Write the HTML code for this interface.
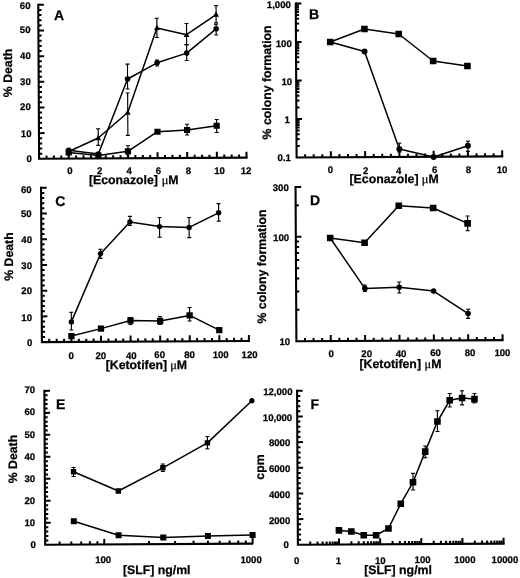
<!DOCTYPE html>
<html><head><meta charset="utf-8"><style>
html,body{margin:0;padding:0;background:#fff;}
svg{display:block;filter:grayscale(1);}
text{font-family:"Liberation Sans",sans-serif;fill:#000;text-rendering:geometricPrecision;stroke:#000;stroke-width:0.25px;}
</style></head><body>
<svg width="520" height="578" viewBox="0 0 520 578">
<g>
<rect width="520" height="578" fill="#fff"/>
<g transform="rotate(-0.3151 39.1 158.8)">
<path d="M39.1,4.85 L39.1,158.8 L246.5,158.8" stroke="#000" stroke-width="2.1" fill="none" stroke-linecap="square"/>
<line x1="39.1" y1="153.67" x2="42.3" y2="153.67" stroke="#000" stroke-width="2"/>
<line x1="39.1" y1="148.54" x2="42.3" y2="148.54" stroke="#000" stroke-width="2"/>
<line x1="39.1" y1="143.41" x2="42.3" y2="143.41" stroke="#000" stroke-width="2"/>
<line x1="39.1" y1="138.27" x2="42.3" y2="138.27" stroke="#000" stroke-width="2"/>
<line x1="39.1" y1="133.14" x2="44.7" y2="133.14" stroke="#000" stroke-width="2"/>
<line x1="39.1" y1="128.01" x2="42.3" y2="128.01" stroke="#000" stroke-width="2"/>
<line x1="39.1" y1="122.88" x2="42.3" y2="122.88" stroke="#000" stroke-width="2"/>
<line x1="39.1" y1="117.75" x2="42.3" y2="117.75" stroke="#000" stroke-width="2"/>
<line x1="39.1" y1="112.62" x2="42.3" y2="112.62" stroke="#000" stroke-width="2"/>
<line x1="39.1" y1="107.48" x2="44.7" y2="107.48" stroke="#000" stroke-width="2"/>
<line x1="39.1" y1="102.35" x2="42.3" y2="102.35" stroke="#000" stroke-width="2"/>
<line x1="39.1" y1="97.22" x2="42.3" y2="97.22" stroke="#000" stroke-width="2"/>
<line x1="39.1" y1="92.09" x2="42.3" y2="92.09" stroke="#000" stroke-width="2"/>
<line x1="39.1" y1="86.96" x2="42.3" y2="86.96" stroke="#000" stroke-width="2"/>
<line x1="39.1" y1="81.83" x2="44.7" y2="81.83" stroke="#000" stroke-width="2"/>
<line x1="39.1" y1="76.69" x2="42.3" y2="76.69" stroke="#000" stroke-width="2"/>
<line x1="39.1" y1="71.56" x2="42.3" y2="71.56" stroke="#000" stroke-width="2"/>
<line x1="39.1" y1="66.43" x2="42.3" y2="66.43" stroke="#000" stroke-width="2"/>
<line x1="39.1" y1="61.3" x2="42.3" y2="61.3" stroke="#000" stroke-width="2"/>
<line x1="39.1" y1="56.17" x2="44.7" y2="56.17" stroke="#000" stroke-width="2"/>
<line x1="39.1" y1="51.04" x2="42.3" y2="51.04" stroke="#000" stroke-width="2"/>
<line x1="39.1" y1="45.9" x2="42.3" y2="45.9" stroke="#000" stroke-width="2"/>
<line x1="39.1" y1="40.77" x2="42.3" y2="40.77" stroke="#000" stroke-width="2"/>
<line x1="39.1" y1="35.64" x2="42.3" y2="35.64" stroke="#000" stroke-width="2"/>
<line x1="39.1" y1="30.51" x2="44.7" y2="30.51" stroke="#000" stroke-width="2"/>
<line x1="39.1" y1="25.38" x2="42.3" y2="25.38" stroke="#000" stroke-width="2"/>
<line x1="39.1" y1="20.25" x2="42.3" y2="20.25" stroke="#000" stroke-width="2"/>
<line x1="39.1" y1="15.11" x2="42.3" y2="15.11" stroke="#000" stroke-width="2"/>
<line x1="39.1" y1="9.98" x2="42.3" y2="9.98" stroke="#000" stroke-width="2"/>
<line x1="39.1" y1="4.85" x2="44.7" y2="4.85" stroke="#000" stroke-width="2"/>
<line x1="46.51" y1="158.8" x2="46.51" y2="155.6" stroke="#000" stroke-width="2"/>
<line x1="53.91" y1="158.8" x2="53.91" y2="155.6" stroke="#000" stroke-width="2"/>
<line x1="61.32" y1="158.8" x2="61.32" y2="155.6" stroke="#000" stroke-width="2"/>
<line x1="68.73" y1="158.8" x2="68.73" y2="152.8" stroke="#000" stroke-width="2"/>
<line x1="76.14" y1="158.8" x2="76.14" y2="155.6" stroke="#000" stroke-width="2"/>
<line x1="83.54" y1="158.8" x2="83.54" y2="155.6" stroke="#000" stroke-width="2"/>
<line x1="90.95" y1="158.8" x2="90.95" y2="155.6" stroke="#000" stroke-width="2"/>
<line x1="98.36" y1="158.8" x2="98.36" y2="152.8" stroke="#000" stroke-width="2"/>
<line x1="105.76" y1="158.8" x2="105.76" y2="155.6" stroke="#000" stroke-width="2"/>
<line x1="113.17" y1="158.8" x2="113.17" y2="155.6" stroke="#000" stroke-width="2"/>
<line x1="120.58" y1="158.8" x2="120.58" y2="155.6" stroke="#000" stroke-width="2"/>
<line x1="127.99" y1="158.8" x2="127.99" y2="152.8" stroke="#000" stroke-width="2"/>
<line x1="135.39" y1="158.8" x2="135.39" y2="155.6" stroke="#000" stroke-width="2"/>
<line x1="142.8" y1="158.8" x2="142.8" y2="155.6" stroke="#000" stroke-width="2"/>
<line x1="150.21" y1="158.8" x2="150.21" y2="155.6" stroke="#000" stroke-width="2"/>
<line x1="157.61" y1="158.8" x2="157.61" y2="152.8" stroke="#000" stroke-width="2"/>
<line x1="165.02" y1="158.8" x2="165.02" y2="155.6" stroke="#000" stroke-width="2"/>
<line x1="172.43" y1="158.8" x2="172.43" y2="155.6" stroke="#000" stroke-width="2"/>
<line x1="179.84" y1="158.8" x2="179.84" y2="155.6" stroke="#000" stroke-width="2"/>
<line x1="187.24" y1="158.8" x2="187.24" y2="152.8" stroke="#000" stroke-width="2"/>
<line x1="194.65" y1="158.8" x2="194.65" y2="155.6" stroke="#000" stroke-width="2"/>
<line x1="202.06" y1="158.8" x2="202.06" y2="155.6" stroke="#000" stroke-width="2"/>
<line x1="209.46" y1="158.8" x2="209.46" y2="155.6" stroke="#000" stroke-width="2"/>
<line x1="216.87" y1="158.8" x2="216.87" y2="152.8" stroke="#000" stroke-width="2"/>
<line x1="224.28" y1="158.8" x2="224.28" y2="155.6" stroke="#000" stroke-width="2"/>
<line x1="231.69" y1="158.8" x2="231.69" y2="155.6" stroke="#000" stroke-width="2"/>
<line x1="239.09" y1="158.8" x2="239.09" y2="155.6" stroke="#000" stroke-width="2"/>
<line x1="246.5" y1="158.8" x2="246.5" y2="152.8" stroke="#000" stroke-width="2"/>
<line x1="98.36" y1="129.13" x2="98.36" y2="145.73" stroke="#000" stroke-width="1.15"/>
<line x1="96.36" y1="129.13" x2="100.36" y2="129.13" stroke="#000" stroke-width="1.15"/>
<line x1="96.36" y1="145.73" x2="100.36" y2="145.73" stroke="#000" stroke-width="1.15"/>
<line x1="127.99" y1="93.49" x2="127.99" y2="135.89" stroke="#000" stroke-width="1.15"/>
<line x1="125.99" y1="93.49" x2="129.99" y2="93.49" stroke="#000" stroke-width="1.15"/>
<line x1="125.99" y1="135.89" x2="129.99" y2="135.89" stroke="#000" stroke-width="1.15"/>
<line x1="157.61" y1="18.95" x2="157.61" y2="38.15" stroke="#000" stroke-width="1.15"/>
<line x1="155.61" y1="18.95" x2="159.61" y2="18.95" stroke="#000" stroke-width="1.15"/>
<line x1="155.61" y1="38.15" x2="159.61" y2="38.15" stroke="#000" stroke-width="1.15"/>
<line x1="187.24" y1="24.31" x2="187.24" y2="45.41" stroke="#000" stroke-width="1.15"/>
<line x1="185.24" y1="24.31" x2="189.24" y2="24.31" stroke="#000" stroke-width="1.15"/>
<line x1="185.24" y1="45.41" x2="189.24" y2="45.41" stroke="#000" stroke-width="1.15"/>
<line x1="216.87" y1="6.58" x2="216.87" y2="23.88" stroke="#000" stroke-width="1.15"/>
<line x1="214.87" y1="6.58" x2="218.87" y2="6.58" stroke="#000" stroke-width="1.15"/>
<line x1="214.87" y1="23.88" x2="218.87" y2="23.88" stroke="#000" stroke-width="1.15"/>
<line x1="127.99" y1="64.59" x2="127.99" y2="89.49" stroke="#000" stroke-width="1.15"/>
<line x1="125.99" y1="64.59" x2="129.99" y2="64.59" stroke="#000" stroke-width="1.15"/>
<line x1="125.99" y1="89.49" x2="129.99" y2="89.49" stroke="#000" stroke-width="1.15"/>
<line x1="157.61" y1="60.65" x2="157.61" y2="66.65" stroke="#000" stroke-width="1.15"/>
<line x1="155.61" y1="60.65" x2="159.61" y2="60.65" stroke="#000" stroke-width="1.15"/>
<line x1="155.61" y1="66.65" x2="159.61" y2="66.65" stroke="#000" stroke-width="1.15"/>
<line x1="187.24" y1="45.41" x2="187.24" y2="61.31" stroke="#000" stroke-width="1.15"/>
<line x1="185.24" y1="45.41" x2="189.24" y2="45.41" stroke="#000" stroke-width="1.15"/>
<line x1="185.24" y1="61.31" x2="189.24" y2="61.31" stroke="#000" stroke-width="1.15"/>
<line x1="216.87" y1="25.28" x2="216.87" y2="35.98" stroke="#000" stroke-width="1.15"/>
<line x1="214.87" y1="25.28" x2="218.87" y2="25.28" stroke="#000" stroke-width="1.15"/>
<line x1="214.87" y1="35.98" x2="218.87" y2="35.98" stroke="#000" stroke-width="1.15"/>
<line x1="127.99" y1="146.24" x2="127.99" y2="155.49" stroke="#000" stroke-width="1.15"/>
<line x1="125.99" y1="146.24" x2="129.99" y2="146.24" stroke="#000" stroke-width="1.15"/>
<line x1="125.99" y1="155.49" x2="129.99" y2="155.49" stroke="#000" stroke-width="1.15"/>
<line x1="187.24" y1="125.06" x2="187.24" y2="135.81" stroke="#000" stroke-width="1.15"/>
<line x1="185.24" y1="125.06" x2="189.24" y2="125.06" stroke="#000" stroke-width="1.15"/>
<line x1="185.24" y1="135.81" x2="189.24" y2="135.81" stroke="#000" stroke-width="1.15"/>
<line x1="216.87" y1="120.48" x2="216.87" y2="133.48" stroke="#000" stroke-width="1.15"/>
<line x1="214.87" y1="120.48" x2="218.87" y2="120.48" stroke="#000" stroke-width="1.15"/>
<line x1="214.87" y1="133.48" x2="218.87" y2="133.48" stroke="#000" stroke-width="1.15"/>
<path d="M68.73,151.66 L98.36,138.33 L127.99,112.99 L157.61,28.55 L187.24,35.51 L216.87,15.58" stroke="#000" stroke-width="1.5" fill="none" stroke-linejoin="round"/>
<path d="M68.73,150.46 L98.36,154.33 L127.99,79.49 L157.61,63.45 L187.24,53.91 L216.87,29.78" stroke="#000" stroke-width="1.5" fill="none" stroke-linejoin="round"/>
<path d="M68.73,152.66 L98.36,155.83 L127.99,151.74 L157.61,132.4 L187.24,130.81 L216.87,126.73" stroke="#000" stroke-width="1.5" fill="none" stroke-linejoin="round"/>
<path d="M68.73,148.36 L71.63,153.87 L65.83,153.87 Z" fill="#000"/>
<path d="M98.36,135.02 L101.26,140.53 L95.46,140.53 Z" fill="#000"/>
<path d="M127.99,109.68 L130.89,115.19 L125.09,115.19 Z" fill="#000"/>
<path d="M157.61,25.25 L160.51,30.76 L154.71,30.76 Z" fill="#000"/>
<path d="M187.24,32.21 L190.14,37.72 L184.34,37.72 Z" fill="#000"/>
<path d="M216.87,12.27 L219.77,17.78 L213.97,17.78 Z" fill="#000"/>
<circle cx="68.73" cy="150.46" r="2.8" fill="#000"/>
<circle cx="98.36" cy="154.33" r="2.8" fill="#000"/>
<circle cx="127.99" cy="79.49" r="2.8" fill="#000"/>
<circle cx="157.61" cy="63.45" r="2.8" fill="#000"/>
<circle cx="187.24" cy="53.91" r="2.8" fill="#000"/>
<circle cx="216.87" cy="29.78" r="2.8" fill="#000"/>
<rect x="65.63" y="149.56" width="6.2" height="6.2" fill="#000"/>
<rect x="95.26" y="152.73" width="6.2" height="6.2" fill="#000"/>
<rect x="124.89" y="148.64" width="6.2" height="6.2" fill="#000"/>
<rect x="154.51" y="129.3" width="6.2" height="6.2" fill="#000"/>
<rect x="184.14" y="127.71" width="6.2" height="6.2" fill="#000"/>
<rect x="213.77" y="123.63" width="6.2" height="6.2" fill="#000"/>
</g>
<g transform="rotate(-0.3151 296.6 157.5)">
<path d="M296.6,3.5 L296.6,157.5 L502.2,157.5" stroke="#000" stroke-width="2.1" fill="none" stroke-linecap="square"/>
<line x1="296.6" y1="145.91" x2="299.8" y2="145.91" stroke="#000" stroke-width="2"/>
<line x1="296.6" y1="139.13" x2="299.8" y2="139.13" stroke="#000" stroke-width="2"/>
<line x1="296.6" y1="134.32" x2="299.8" y2="134.32" stroke="#000" stroke-width="2"/>
<line x1="296.6" y1="130.59" x2="299.8" y2="130.59" stroke="#000" stroke-width="2"/>
<line x1="296.6" y1="127.54" x2="299.8" y2="127.54" stroke="#000" stroke-width="2"/>
<line x1="296.6" y1="124.96" x2="299.8" y2="124.96" stroke="#000" stroke-width="2"/>
<line x1="296.6" y1="122.73" x2="299.8" y2="122.73" stroke="#000" stroke-width="2"/>
<line x1="296.6" y1="120.76" x2="299.8" y2="120.76" stroke="#000" stroke-width="2"/>
<line x1="296.6" y1="119" x2="302.2" y2="119" stroke="#000" stroke-width="2"/>
<line x1="296.6" y1="107.41" x2="299.8" y2="107.41" stroke="#000" stroke-width="2"/>
<line x1="296.6" y1="100.63" x2="299.8" y2="100.63" stroke="#000" stroke-width="2"/>
<line x1="296.6" y1="95.82" x2="299.8" y2="95.82" stroke="#000" stroke-width="2"/>
<line x1="296.6" y1="92.09" x2="299.8" y2="92.09" stroke="#000" stroke-width="2"/>
<line x1="296.6" y1="89.04" x2="299.8" y2="89.04" stroke="#000" stroke-width="2"/>
<line x1="296.6" y1="86.46" x2="299.8" y2="86.46" stroke="#000" stroke-width="2"/>
<line x1="296.6" y1="84.23" x2="299.8" y2="84.23" stroke="#000" stroke-width="2"/>
<line x1="296.6" y1="82.26" x2="299.8" y2="82.26" stroke="#000" stroke-width="2"/>
<line x1="296.6" y1="80.5" x2="302.2" y2="80.5" stroke="#000" stroke-width="2"/>
<line x1="296.6" y1="68.91" x2="299.8" y2="68.91" stroke="#000" stroke-width="2"/>
<line x1="296.6" y1="62.13" x2="299.8" y2="62.13" stroke="#000" stroke-width="2"/>
<line x1="296.6" y1="57.32" x2="299.8" y2="57.32" stroke="#000" stroke-width="2"/>
<line x1="296.6" y1="53.59" x2="299.8" y2="53.59" stroke="#000" stroke-width="2"/>
<line x1="296.6" y1="50.54" x2="299.8" y2="50.54" stroke="#000" stroke-width="2"/>
<line x1="296.6" y1="47.96" x2="299.8" y2="47.96" stroke="#000" stroke-width="2"/>
<line x1="296.6" y1="45.73" x2="299.8" y2="45.73" stroke="#000" stroke-width="2"/>
<line x1="296.6" y1="43.76" x2="299.8" y2="43.76" stroke="#000" stroke-width="2"/>
<line x1="296.6" y1="42" x2="302.2" y2="42" stroke="#000" stroke-width="2"/>
<line x1="296.6" y1="30.41" x2="299.8" y2="30.41" stroke="#000" stroke-width="2"/>
<line x1="296.6" y1="23.63" x2="299.8" y2="23.63" stroke="#000" stroke-width="2"/>
<line x1="296.6" y1="18.82" x2="299.8" y2="18.82" stroke="#000" stroke-width="2"/>
<line x1="296.6" y1="15.09" x2="299.8" y2="15.09" stroke="#000" stroke-width="2"/>
<line x1="296.6" y1="12.04" x2="299.8" y2="12.04" stroke="#000" stroke-width="2"/>
<line x1="296.6" y1="9.46" x2="299.8" y2="9.46" stroke="#000" stroke-width="2"/>
<line x1="296.6" y1="7.23" x2="299.8" y2="7.23" stroke="#000" stroke-width="2"/>
<line x1="296.6" y1="5.26" x2="299.8" y2="5.26" stroke="#000" stroke-width="2"/>
<line x1="296.6" y1="3.5" x2="302.2" y2="3.5" stroke="#000" stroke-width="2"/>
<line x1="305.17" y1="157.5" x2="305.17" y2="154.3" stroke="#000" stroke-width="2"/>
<line x1="313.73" y1="157.5" x2="313.73" y2="154.3" stroke="#000" stroke-width="2"/>
<line x1="322.3" y1="157.5" x2="322.3" y2="154.3" stroke="#000" stroke-width="2"/>
<line x1="330.87" y1="157.5" x2="330.87" y2="151.5" stroke="#000" stroke-width="2"/>
<line x1="339.43" y1="157.5" x2="339.43" y2="154.3" stroke="#000" stroke-width="2"/>
<line x1="348" y1="157.5" x2="348" y2="154.3" stroke="#000" stroke-width="2"/>
<line x1="356.57" y1="157.5" x2="356.57" y2="154.3" stroke="#000" stroke-width="2"/>
<line x1="365.13" y1="157.5" x2="365.13" y2="151.5" stroke="#000" stroke-width="2"/>
<line x1="373.7" y1="157.5" x2="373.7" y2="154.3" stroke="#000" stroke-width="2"/>
<line x1="382.27" y1="157.5" x2="382.27" y2="154.3" stroke="#000" stroke-width="2"/>
<line x1="390.83" y1="157.5" x2="390.83" y2="154.3" stroke="#000" stroke-width="2"/>
<line x1="399.4" y1="157.5" x2="399.4" y2="151.5" stroke="#000" stroke-width="2"/>
<line x1="407.97" y1="157.5" x2="407.97" y2="154.3" stroke="#000" stroke-width="2"/>
<line x1="416.53" y1="157.5" x2="416.53" y2="154.3" stroke="#000" stroke-width="2"/>
<line x1="425.1" y1="157.5" x2="425.1" y2="154.3" stroke="#000" stroke-width="2"/>
<line x1="433.67" y1="157.5" x2="433.67" y2="151.5" stroke="#000" stroke-width="2"/>
<line x1="442.23" y1="157.5" x2="442.23" y2="154.3" stroke="#000" stroke-width="2"/>
<line x1="450.8" y1="157.5" x2="450.8" y2="154.3" stroke="#000" stroke-width="2"/>
<line x1="459.37" y1="157.5" x2="459.37" y2="154.3" stroke="#000" stroke-width="2"/>
<line x1="467.93" y1="157.5" x2="467.93" y2="151.5" stroke="#000" stroke-width="2"/>
<line x1="476.5" y1="157.5" x2="476.5" y2="154.3" stroke="#000" stroke-width="2"/>
<line x1="485.07" y1="157.5" x2="485.07" y2="154.3" stroke="#000" stroke-width="2"/>
<line x1="493.63" y1="157.5" x2="493.63" y2="154.3" stroke="#000" stroke-width="2"/>
<line x1="502.2" y1="157.5" x2="502.2" y2="151.5" stroke="#000" stroke-width="2"/>
<line x1="399.4" y1="143.77" x2="399.4" y2="152.57" stroke="#000" stroke-width="1.15"/>
<line x1="397.4" y1="143.77" x2="401.4" y2="143.77" stroke="#000" stroke-width="1.15"/>
<line x1="397.4" y1="152.57" x2="401.4" y2="152.57" stroke="#000" stroke-width="1.15"/>
<line x1="467.93" y1="142.14" x2="467.93" y2="152.34" stroke="#000" stroke-width="1.15"/>
<line x1="465.93" y1="142.14" x2="469.93" y2="142.14" stroke="#000" stroke-width="1.15"/>
<line x1="465.93" y1="152.34" x2="469.93" y2="152.34" stroke="#000" stroke-width="1.15"/>
<path d="M330.87,42.19 L365.13,29.38 L399.4,34.57 L433.67,61.75 L467.93,66.94" stroke="#000" stroke-width="1.5" fill="none" stroke-linejoin="round"/>
<path d="M330.87,42.19 L365.13,51.78 L399.4,149.57 L433.67,157.75 L467.93,146.64" stroke="#000" stroke-width="1.5" fill="none" stroke-linejoin="round"/>
<rect x="327.57" y="38.89" width="6.6" height="6.6" fill="#000"/>
<rect x="361.83" y="26.08" width="6.6" height="6.6" fill="#000"/>
<rect x="396.1" y="31.27" width="6.6" height="6.6" fill="#000"/>
<rect x="430.37" y="58.45" width="6.6" height="6.6" fill="#000"/>
<rect x="464.63" y="63.64" width="6.6" height="6.6" fill="#000"/>
<circle cx="330.87" cy="42.19" r="3" fill="#000"/>
<circle cx="365.13" cy="51.78" r="3" fill="#000"/>
<circle cx="399.4" cy="149.57" r="3" fill="#000"/>
<circle cx="433.67" cy="157.75" r="3" fill="#000"/>
<circle cx="467.93" cy="146.64" r="3" fill="#000"/>
</g>
<g transform="rotate(-0.3151 41.9 342.1)">
<path d="M41.9,187.8 L41.9,342.1 L248.9,342.1" stroke="#000" stroke-width="2.1" fill="none" stroke-linecap="square"/>
<line x1="41.9" y1="336.96" x2="45.1" y2="336.96" stroke="#000" stroke-width="2"/>
<line x1="41.9" y1="331.81" x2="45.1" y2="331.81" stroke="#000" stroke-width="2"/>
<line x1="41.9" y1="326.67" x2="45.1" y2="326.67" stroke="#000" stroke-width="2"/>
<line x1="41.9" y1="321.53" x2="45.1" y2="321.53" stroke="#000" stroke-width="2"/>
<line x1="41.9" y1="316.38" x2="47.5" y2="316.38" stroke="#000" stroke-width="2"/>
<line x1="41.9" y1="311.24" x2="45.1" y2="311.24" stroke="#000" stroke-width="2"/>
<line x1="41.9" y1="306.1" x2="45.1" y2="306.1" stroke="#000" stroke-width="2"/>
<line x1="41.9" y1="300.95" x2="45.1" y2="300.95" stroke="#000" stroke-width="2"/>
<line x1="41.9" y1="295.81" x2="45.1" y2="295.81" stroke="#000" stroke-width="2"/>
<line x1="41.9" y1="290.67" x2="47.5" y2="290.67" stroke="#000" stroke-width="2"/>
<line x1="41.9" y1="285.52" x2="45.1" y2="285.52" stroke="#000" stroke-width="2"/>
<line x1="41.9" y1="280.38" x2="45.1" y2="280.38" stroke="#000" stroke-width="2"/>
<line x1="41.9" y1="275.24" x2="45.1" y2="275.24" stroke="#000" stroke-width="2"/>
<line x1="41.9" y1="270.09" x2="45.1" y2="270.09" stroke="#000" stroke-width="2"/>
<line x1="41.9" y1="264.95" x2="47.5" y2="264.95" stroke="#000" stroke-width="2"/>
<line x1="41.9" y1="259.81" x2="45.1" y2="259.81" stroke="#000" stroke-width="2"/>
<line x1="41.9" y1="254.66" x2="45.1" y2="254.66" stroke="#000" stroke-width="2"/>
<line x1="41.9" y1="249.52" x2="45.1" y2="249.52" stroke="#000" stroke-width="2"/>
<line x1="41.9" y1="244.38" x2="45.1" y2="244.38" stroke="#000" stroke-width="2"/>
<line x1="41.9" y1="239.23" x2="47.5" y2="239.23" stroke="#000" stroke-width="2"/>
<line x1="41.9" y1="234.09" x2="45.1" y2="234.09" stroke="#000" stroke-width="2"/>
<line x1="41.9" y1="228.95" x2="45.1" y2="228.95" stroke="#000" stroke-width="2"/>
<line x1="41.9" y1="223.8" x2="45.1" y2="223.8" stroke="#000" stroke-width="2"/>
<line x1="41.9" y1="218.66" x2="45.1" y2="218.66" stroke="#000" stroke-width="2"/>
<line x1="41.9" y1="213.52" x2="47.5" y2="213.52" stroke="#000" stroke-width="2"/>
<line x1="41.9" y1="208.37" x2="45.1" y2="208.37" stroke="#000" stroke-width="2"/>
<line x1="41.9" y1="203.23" x2="45.1" y2="203.23" stroke="#000" stroke-width="2"/>
<line x1="41.9" y1="198.09" x2="45.1" y2="198.09" stroke="#000" stroke-width="2"/>
<line x1="41.9" y1="192.94" x2="45.1" y2="192.94" stroke="#000" stroke-width="2"/>
<line x1="41.9" y1="187.8" x2="47.5" y2="187.8" stroke="#000" stroke-width="2"/>
<line x1="49.29" y1="342.1" x2="49.29" y2="338.9" stroke="#000" stroke-width="2"/>
<line x1="56.69" y1="342.1" x2="56.69" y2="338.9" stroke="#000" stroke-width="2"/>
<line x1="64.08" y1="342.1" x2="64.08" y2="338.9" stroke="#000" stroke-width="2"/>
<line x1="71.47" y1="342.1" x2="71.47" y2="336.1" stroke="#000" stroke-width="2"/>
<line x1="78.86" y1="342.1" x2="78.86" y2="338.9" stroke="#000" stroke-width="2"/>
<line x1="86.26" y1="342.1" x2="86.26" y2="338.9" stroke="#000" stroke-width="2"/>
<line x1="93.65" y1="342.1" x2="93.65" y2="338.9" stroke="#000" stroke-width="2"/>
<line x1="101.04" y1="342.1" x2="101.04" y2="336.1" stroke="#000" stroke-width="2"/>
<line x1="108.44" y1="342.1" x2="108.44" y2="338.9" stroke="#000" stroke-width="2"/>
<line x1="115.83" y1="342.1" x2="115.83" y2="338.9" stroke="#000" stroke-width="2"/>
<line x1="123.22" y1="342.1" x2="123.22" y2="338.9" stroke="#000" stroke-width="2"/>
<line x1="130.61" y1="342.1" x2="130.61" y2="336.1" stroke="#000" stroke-width="2"/>
<line x1="138.01" y1="342.1" x2="138.01" y2="338.9" stroke="#000" stroke-width="2"/>
<line x1="145.4" y1="342.1" x2="145.4" y2="338.9" stroke="#000" stroke-width="2"/>
<line x1="152.79" y1="342.1" x2="152.79" y2="338.9" stroke="#000" stroke-width="2"/>
<line x1="160.19" y1="342.1" x2="160.19" y2="336.1" stroke="#000" stroke-width="2"/>
<line x1="167.58" y1="342.1" x2="167.58" y2="338.9" stroke="#000" stroke-width="2"/>
<line x1="174.97" y1="342.1" x2="174.97" y2="338.9" stroke="#000" stroke-width="2"/>
<line x1="182.36" y1="342.1" x2="182.36" y2="338.9" stroke="#000" stroke-width="2"/>
<line x1="189.76" y1="342.1" x2="189.76" y2="336.1" stroke="#000" stroke-width="2"/>
<line x1="197.15" y1="342.1" x2="197.15" y2="338.9" stroke="#000" stroke-width="2"/>
<line x1="204.54" y1="342.1" x2="204.54" y2="338.9" stroke="#000" stroke-width="2"/>
<line x1="211.94" y1="342.1" x2="211.94" y2="338.9" stroke="#000" stroke-width="2"/>
<line x1="219.33" y1="342.1" x2="219.33" y2="336.1" stroke="#000" stroke-width="2"/>
<line x1="226.72" y1="342.1" x2="226.72" y2="338.9" stroke="#000" stroke-width="2"/>
<line x1="234.11" y1="342.1" x2="234.11" y2="338.9" stroke="#000" stroke-width="2"/>
<line x1="241.51" y1="342.1" x2="241.51" y2="338.9" stroke="#000" stroke-width="2"/>
<line x1="248.9" y1="342.1" x2="248.9" y2="336.1" stroke="#000" stroke-width="2"/>
<line x1="71.47" y1="312.46" x2="71.47" y2="330.16" stroke="#000" stroke-width="1.15"/>
<line x1="69.47" y1="312.46" x2="73.47" y2="312.46" stroke="#000" stroke-width="1.15"/>
<line x1="69.47" y1="330.16" x2="73.47" y2="330.16" stroke="#000" stroke-width="1.15"/>
<line x1="101.04" y1="249.63" x2="101.04" y2="258.73" stroke="#000" stroke-width="1.15"/>
<line x1="99.04" y1="249.63" x2="103.04" y2="249.63" stroke="#000" stroke-width="1.15"/>
<line x1="99.04" y1="258.73" x2="103.04" y2="258.73" stroke="#000" stroke-width="1.15"/>
<line x1="130.61" y1="216.89" x2="130.61" y2="225.99" stroke="#000" stroke-width="1.15"/>
<line x1="128.61" y1="216.89" x2="132.61" y2="216.89" stroke="#000" stroke-width="1.15"/>
<line x1="128.61" y1="225.99" x2="132.61" y2="225.99" stroke="#000" stroke-width="1.15"/>
<line x1="160.19" y1="218.15" x2="160.19" y2="237.85" stroke="#000" stroke-width="1.15"/>
<line x1="158.19" y1="218.15" x2="162.19" y2="218.15" stroke="#000" stroke-width="1.15"/>
<line x1="158.19" y1="237.85" x2="162.19" y2="237.85" stroke="#000" stroke-width="1.15"/>
<line x1="189.76" y1="218.31" x2="189.76" y2="238.41" stroke="#000" stroke-width="1.15"/>
<line x1="187.76" y1="218.31" x2="191.76" y2="218.31" stroke="#000" stroke-width="1.15"/>
<line x1="187.76" y1="238.41" x2="191.76" y2="238.41" stroke="#000" stroke-width="1.15"/>
<line x1="219.33" y1="204.58" x2="219.33" y2="222.18" stroke="#000" stroke-width="1.15"/>
<line x1="217.33" y1="204.58" x2="221.33" y2="204.58" stroke="#000" stroke-width="1.15"/>
<line x1="217.33" y1="222.18" x2="221.33" y2="222.18" stroke="#000" stroke-width="1.15"/>
<line x1="130.61" y1="317.99" x2="130.61" y2="324.99" stroke="#000" stroke-width="1.15"/>
<line x1="128.61" y1="317.99" x2="132.61" y2="317.99" stroke="#000" stroke-width="1.15"/>
<line x1="128.61" y1="324.99" x2="132.61" y2="324.99" stroke="#000" stroke-width="1.15"/>
<line x1="160.19" y1="317.15" x2="160.19" y2="325.15" stroke="#000" stroke-width="1.15"/>
<line x1="158.19" y1="317.15" x2="162.19" y2="317.15" stroke="#000" stroke-width="1.15"/>
<line x1="158.19" y1="325.15" x2="162.19" y2="325.15" stroke="#000" stroke-width="1.15"/>
<line x1="189.76" y1="308.31" x2="189.76" y2="321.81" stroke="#000" stroke-width="1.15"/>
<line x1="187.76" y1="308.31" x2="191.76" y2="308.31" stroke="#000" stroke-width="1.15"/>
<line x1="187.76" y1="321.81" x2="191.76" y2="321.81" stroke="#000" stroke-width="1.15"/>
<path d="M71.47,322.06 L101.04,254.03 L130.61,222.39 L160.19,227.25 L189.76,228.21 L219.33,213.78" stroke="#000" stroke-width="1.5" fill="none" stroke-linejoin="round"/>
<path d="M71.47,336.26 L101.04,328.93 L130.61,320.99 L160.19,321.65 L189.76,316.21 L219.33,331.08" stroke="#000" stroke-width="1.5" fill="none" stroke-linejoin="round"/>
<circle cx="71.47" cy="322.06" r="2.7" fill="#000"/>
<circle cx="101.04" cy="254.03" r="2.7" fill="#000"/>
<circle cx="130.61" cy="222.39" r="2.7" fill="#000"/>
<circle cx="160.19" cy="227.25" r="2.7" fill="#000"/>
<circle cx="189.76" cy="228.21" r="2.7" fill="#000"/>
<circle cx="219.33" cy="213.78" r="2.7" fill="#000"/>
<rect x="68.32" y="333.11" width="6.3" height="6.3" fill="#000"/>
<rect x="97.89" y="325.78" width="6.3" height="6.3" fill="#000"/>
<rect x="127.46" y="317.84" width="6.3" height="6.3" fill="#000"/>
<rect x="157.04" y="318.5" width="6.3" height="6.3" fill="#000"/>
<rect x="186.61" y="313.06" width="6.3" height="6.3" fill="#000"/>
<rect x="216.18" y="327.93" width="6.3" height="6.3" fill="#000"/>
</g>
<g transform="rotate(-0.3151 296.4 341.3)">
<path d="M296.4,187 L296.4,341.3 L502.6,341.3" stroke="#000" stroke-width="2.1" fill="none" stroke-linecap="square"/>
<line x1="296.4" y1="309.85" x2="299.6" y2="309.85" stroke="#000" stroke-width="2"/>
<line x1="296.4" y1="291.46" x2="299.6" y2="291.46" stroke="#000" stroke-width="2"/>
<line x1="296.4" y1="278.41" x2="299.6" y2="278.41" stroke="#000" stroke-width="2"/>
<line x1="296.4" y1="268.29" x2="299.6" y2="268.29" stroke="#000" stroke-width="2"/>
<line x1="296.4" y1="260.01" x2="299.6" y2="260.01" stroke="#000" stroke-width="2"/>
<line x1="296.4" y1="253.02" x2="299.6" y2="253.02" stroke="#000" stroke-width="2"/>
<line x1="296.4" y1="246.96" x2="299.6" y2="246.96" stroke="#000" stroke-width="2"/>
<line x1="296.4" y1="241.62" x2="299.6" y2="241.62" stroke="#000" stroke-width="2"/>
<line x1="296.4" y1="236.84" x2="302" y2="236.84" stroke="#000" stroke-width="2"/>
<line x1="296.4" y1="205.39" x2="299.6" y2="205.39" stroke="#000" stroke-width="2"/>
<line x1="296.4" y1="187" x2="302" y2="187" stroke="#000" stroke-width="2"/>
<line x1="304.99" y1="341.3" x2="304.99" y2="338.1" stroke="#000" stroke-width="2"/>
<line x1="313.58" y1="341.3" x2="313.58" y2="338.1" stroke="#000" stroke-width="2"/>
<line x1="322.17" y1="341.3" x2="322.17" y2="338.1" stroke="#000" stroke-width="2"/>
<line x1="330.77" y1="341.3" x2="330.77" y2="335.3" stroke="#000" stroke-width="2"/>
<line x1="339.36" y1="341.3" x2="339.36" y2="338.1" stroke="#000" stroke-width="2"/>
<line x1="347.95" y1="341.3" x2="347.95" y2="338.1" stroke="#000" stroke-width="2"/>
<line x1="356.54" y1="341.3" x2="356.54" y2="338.1" stroke="#000" stroke-width="2"/>
<line x1="365.13" y1="341.3" x2="365.13" y2="335.3" stroke="#000" stroke-width="2"/>
<line x1="373.72" y1="341.3" x2="373.72" y2="338.1" stroke="#000" stroke-width="2"/>
<line x1="382.32" y1="341.3" x2="382.32" y2="338.1" stroke="#000" stroke-width="2"/>
<line x1="390.91" y1="341.3" x2="390.91" y2="338.1" stroke="#000" stroke-width="2"/>
<line x1="399.5" y1="341.3" x2="399.5" y2="335.3" stroke="#000" stroke-width="2"/>
<line x1="408.09" y1="341.3" x2="408.09" y2="338.1" stroke="#000" stroke-width="2"/>
<line x1="416.68" y1="341.3" x2="416.68" y2="338.1" stroke="#000" stroke-width="2"/>
<line x1="425.27" y1="341.3" x2="425.27" y2="338.1" stroke="#000" stroke-width="2"/>
<line x1="433.87" y1="341.3" x2="433.87" y2="335.3" stroke="#000" stroke-width="2"/>
<line x1="442.46" y1="341.3" x2="442.46" y2="338.1" stroke="#000" stroke-width="2"/>
<line x1="451.05" y1="341.3" x2="451.05" y2="338.1" stroke="#000" stroke-width="2"/>
<line x1="459.64" y1="341.3" x2="459.64" y2="338.1" stroke="#000" stroke-width="2"/>
<line x1="468.23" y1="341.3" x2="468.23" y2="335.3" stroke="#000" stroke-width="2"/>
<line x1="476.82" y1="341.3" x2="476.82" y2="338.1" stroke="#000" stroke-width="2"/>
<line x1="485.42" y1="341.3" x2="485.42" y2="338.1" stroke="#000" stroke-width="2"/>
<line x1="494.01" y1="341.3" x2="494.01" y2="338.1" stroke="#000" stroke-width="2"/>
<line x1="502.6" y1="341.3" x2="502.6" y2="335.3" stroke="#000" stroke-width="2"/>
<line x1="468.23" y1="216.95" x2="468.23" y2="231.65" stroke="#000" stroke-width="1.15"/>
<line x1="466.23" y1="216.95" x2="470.23" y2="216.95" stroke="#000" stroke-width="1.15"/>
<line x1="466.23" y1="231.65" x2="470.23" y2="231.65" stroke="#000" stroke-width="1.15"/>
<line x1="468.23" y1="310.15" x2="468.23" y2="319.35" stroke="#000" stroke-width="1.15"/>
<line x1="466.23" y1="310.15" x2="470.23" y2="310.15" stroke="#000" stroke-width="1.15"/>
<line x1="466.23" y1="319.35" x2="470.23" y2="319.35" stroke="#000" stroke-width="1.15"/>
<line x1="399.5" y1="282.57" x2="399.5" y2="293.57" stroke="#000" stroke-width="1.15"/>
<line x1="397.5" y1="282.57" x2="401.5" y2="282.57" stroke="#000" stroke-width="1.15"/>
<line x1="397.5" y1="293.57" x2="401.5" y2="293.57" stroke="#000" stroke-width="1.15"/>
<line x1="365.13" y1="285.38" x2="365.13" y2="291.88" stroke="#000" stroke-width="1.15"/>
<line x1="363.13" y1="285.38" x2="367.13" y2="285.38" stroke="#000" stroke-width="1.15"/>
<line x1="363.13" y1="291.88" x2="367.13" y2="291.88" stroke="#000" stroke-width="1.15"/>
<path d="M330.77,238.19 L365.13,243.08 L399.5,206.37 L433.87,208.76 L468.23,224.35" stroke="#000" stroke-width="1.5" fill="none" stroke-linejoin="round"/>
<path d="M330.77,238.19 L365.13,288.78 L399.5,287.87 L433.87,291.76 L468.23,314.55" stroke="#000" stroke-width="1.5" fill="none" stroke-linejoin="round"/>
<rect x="327.47" y="234.89" width="6.6" height="6.6" fill="#000"/>
<rect x="361.83" y="239.78" width="6.6" height="6.6" fill="#000"/>
<rect x="396.2" y="203.07" width="6.6" height="6.6" fill="#000"/>
<rect x="430.57" y="205.46" width="6.6" height="6.6" fill="#000"/>
<rect x="464.93" y="221.05" width="6.6" height="6.6" fill="#000"/>
<circle cx="330.77" cy="238.19" r="2.8" fill="#000"/>
<circle cx="365.13" cy="288.78" r="2.8" fill="#000"/>
<circle cx="399.5" cy="287.87" r="2.8" fill="#000"/>
<circle cx="433.87" cy="291.76" r="2.8" fill="#000"/>
<circle cx="468.23" cy="314.55" r="2.8" fill="#000"/>
</g>
<g transform="rotate(-0.3151 45.2 544.8)">
<path d="M45.2,390.9 L45.2,544.8 L252.1,544.8" stroke="#000" stroke-width="2.1" fill="none" stroke-linecap="square"/>
<line x1="45.2" y1="540.4" x2="48.4" y2="540.4" stroke="#000" stroke-width="2"/>
<line x1="45.2" y1="536.01" x2="48.4" y2="536.01" stroke="#000" stroke-width="2"/>
<line x1="45.2" y1="531.61" x2="48.4" y2="531.61" stroke="#000" stroke-width="2"/>
<line x1="45.2" y1="527.21" x2="48.4" y2="527.21" stroke="#000" stroke-width="2"/>
<line x1="45.2" y1="522.81" x2="50.8" y2="522.81" stroke="#000" stroke-width="2"/>
<line x1="45.2" y1="518.42" x2="48.4" y2="518.42" stroke="#000" stroke-width="2"/>
<line x1="45.2" y1="514.02" x2="48.4" y2="514.02" stroke="#000" stroke-width="2"/>
<line x1="45.2" y1="509.62" x2="48.4" y2="509.62" stroke="#000" stroke-width="2"/>
<line x1="45.2" y1="505.23" x2="48.4" y2="505.23" stroke="#000" stroke-width="2"/>
<line x1="45.2" y1="500.83" x2="50.8" y2="500.83" stroke="#000" stroke-width="2"/>
<line x1="45.2" y1="496.43" x2="48.4" y2="496.43" stroke="#000" stroke-width="2"/>
<line x1="45.2" y1="492.03" x2="48.4" y2="492.03" stroke="#000" stroke-width="2"/>
<line x1="45.2" y1="487.64" x2="48.4" y2="487.64" stroke="#000" stroke-width="2"/>
<line x1="45.2" y1="483.24" x2="48.4" y2="483.24" stroke="#000" stroke-width="2"/>
<line x1="45.2" y1="478.84" x2="50.8" y2="478.84" stroke="#000" stroke-width="2"/>
<line x1="45.2" y1="474.45" x2="48.4" y2="474.45" stroke="#000" stroke-width="2"/>
<line x1="45.2" y1="470.05" x2="48.4" y2="470.05" stroke="#000" stroke-width="2"/>
<line x1="45.2" y1="465.65" x2="48.4" y2="465.65" stroke="#000" stroke-width="2"/>
<line x1="45.2" y1="461.25" x2="48.4" y2="461.25" stroke="#000" stroke-width="2"/>
<line x1="45.2" y1="456.86" x2="50.8" y2="456.86" stroke="#000" stroke-width="2"/>
<line x1="45.2" y1="452.46" x2="48.4" y2="452.46" stroke="#000" stroke-width="2"/>
<line x1="45.2" y1="448.06" x2="48.4" y2="448.06" stroke="#000" stroke-width="2"/>
<line x1="45.2" y1="443.67" x2="48.4" y2="443.67" stroke="#000" stroke-width="2"/>
<line x1="45.2" y1="439.27" x2="48.4" y2="439.27" stroke="#000" stroke-width="2"/>
<line x1="45.2" y1="434.87" x2="50.8" y2="434.87" stroke="#000" stroke-width="2"/>
<line x1="45.2" y1="430.47" x2="48.4" y2="430.47" stroke="#000" stroke-width="2"/>
<line x1="45.2" y1="426.08" x2="48.4" y2="426.08" stroke="#000" stroke-width="2"/>
<line x1="45.2" y1="421.68" x2="48.4" y2="421.68" stroke="#000" stroke-width="2"/>
<line x1="45.2" y1="417.28" x2="48.4" y2="417.28" stroke="#000" stroke-width="2"/>
<line x1="45.2" y1="412.89" x2="50.8" y2="412.89" stroke="#000" stroke-width="2"/>
<line x1="45.2" y1="408.49" x2="48.4" y2="408.49" stroke="#000" stroke-width="2"/>
<line x1="45.2" y1="404.09" x2="48.4" y2="404.09" stroke="#000" stroke-width="2"/>
<line x1="45.2" y1="399.69" x2="48.4" y2="399.69" stroke="#000" stroke-width="2"/>
<line x1="45.2" y1="395.3" x2="48.4" y2="395.3" stroke="#000" stroke-width="2"/>
<line x1="45.2" y1="390.9" x2="50.8" y2="390.9" stroke="#000" stroke-width="2"/>
<line x1="59.58" y1="544.8" x2="59.58" y2="541.6" stroke="#000" stroke-width="2"/>
<line x1="71.33" y1="544.8" x2="71.33" y2="541.6" stroke="#000" stroke-width="2"/>
<line x1="81.27" y1="544.8" x2="81.27" y2="541.6" stroke="#000" stroke-width="2"/>
<line x1="89.87" y1="544.8" x2="89.87" y2="541.6" stroke="#000" stroke-width="2"/>
<line x1="97.46" y1="544.8" x2="97.46" y2="541.6" stroke="#000" stroke-width="2"/>
<line x1="104.25" y1="544.8" x2="104.25" y2="539.2" stroke="#000" stroke-width="2"/>
<line x1="148.93" y1="544.8" x2="148.93" y2="541.6" stroke="#000" stroke-width="2"/>
<line x1="175.06" y1="544.8" x2="175.06" y2="541.6" stroke="#000" stroke-width="2"/>
<line x1="193.6" y1="544.8" x2="193.6" y2="541.6" stroke="#000" stroke-width="2"/>
<line x1="207.98" y1="544.8" x2="207.98" y2="541.6" stroke="#000" stroke-width="2"/>
<line x1="219.73" y1="544.8" x2="219.73" y2="541.6" stroke="#000" stroke-width="2"/>
<line x1="229.67" y1="544.8" x2="229.67" y2="541.6" stroke="#000" stroke-width="2"/>
<line x1="238.27" y1="544.8" x2="238.27" y2="541.6" stroke="#000" stroke-width="2"/>
<line x1="245.86" y1="544.8" x2="245.86" y2="541.6" stroke="#000" stroke-width="2"/>
<line x1="252.65" y1="544.8" x2="252.65" y2="539.2" stroke="#000" stroke-width="2"/>
<line x1="73.96" y1="467.66" x2="73.96" y2="476.66" stroke="#000" stroke-width="1.15"/>
<line x1="71.96" y1="467.66" x2="75.96" y2="467.66" stroke="#000" stroke-width="1.15"/>
<line x1="71.96" y1="476.66" x2="75.96" y2="476.66" stroke="#000" stroke-width="1.15"/>
<line x1="163.31" y1="464.65" x2="163.31" y2="472.15" stroke="#000" stroke-width="1.15"/>
<line x1="161.31" y1="464.65" x2="165.31" y2="464.65" stroke="#000" stroke-width="1.15"/>
<line x1="161.31" y1="472.15" x2="165.31" y2="472.15" stroke="#000" stroke-width="1.15"/>
<line x1="207.98" y1="437.4" x2="207.98" y2="449.7" stroke="#000" stroke-width="1.15"/>
<line x1="205.98" y1="437.4" x2="209.98" y2="437.4" stroke="#000" stroke-width="1.15"/>
<line x1="205.98" y1="449.7" x2="209.98" y2="449.7" stroke="#000" stroke-width="1.15"/>
<path d="M73.96,471.96 L118.64,491.4 L163.31,468.45 L207.98,443.8 L252.65,401.84" stroke="#000" stroke-width="1.5" fill="none" stroke-linejoin="round"/>
<path d="M73.96,521.36 L118.64,535.7 L163.31,538.15 L207.98,536.9 L252.65,536.24" stroke="#000" stroke-width="1.5" fill="none" stroke-linejoin="round"/>
<rect x="71.26" y="469.26" width="5.4" height="5.4" fill="#000"/>
<rect x="115.94" y="488.7" width="5.4" height="5.4" fill="#000"/>
<rect x="160.61" y="465.75" width="5.4" height="5.4" fill="#000"/>
<rect x="205.28" y="441.1" width="5.4" height="5.4" fill="#000"/>
<circle cx="252.65" cy="401.84" r="2.6" fill="#000"/>
<rect x="70.96" y="518.36" width="6" height="6" fill="#000"/>
<rect x="115.64" y="532.7" width="6" height="6" fill="#000"/>
<rect x="160.31" y="535.15" width="6" height="6" fill="#000"/>
<rect x="204.98" y="533.9" width="6" height="6" fill="#000"/>
<rect x="249.65" y="533.24" width="6" height="6" fill="#000"/>
</g>
<g transform="rotate(-0.3151 297.9 544.8)">
<path d="M297.9,390.8 L297.9,544.8 L503.6,544.8" stroke="#000" stroke-width="2.1" fill="none" stroke-linecap="square"/>
<line x1="297.9" y1="539.67" x2="301.1" y2="539.67" stroke="#000" stroke-width="2"/>
<line x1="297.9" y1="534.53" x2="301.1" y2="534.53" stroke="#000" stroke-width="2"/>
<line x1="297.9" y1="529.4" x2="301.1" y2="529.4" stroke="#000" stroke-width="2"/>
<line x1="297.9" y1="524.27" x2="301.1" y2="524.27" stroke="#000" stroke-width="2"/>
<line x1="297.9" y1="519.13" x2="303.5" y2="519.13" stroke="#000" stroke-width="2"/>
<line x1="297.9" y1="514" x2="301.1" y2="514" stroke="#000" stroke-width="2"/>
<line x1="297.9" y1="508.87" x2="301.1" y2="508.87" stroke="#000" stroke-width="2"/>
<line x1="297.9" y1="503.73" x2="301.1" y2="503.73" stroke="#000" stroke-width="2"/>
<line x1="297.9" y1="498.6" x2="301.1" y2="498.6" stroke="#000" stroke-width="2"/>
<line x1="297.9" y1="493.47" x2="303.5" y2="493.47" stroke="#000" stroke-width="2"/>
<line x1="297.9" y1="488.33" x2="301.1" y2="488.33" stroke="#000" stroke-width="2"/>
<line x1="297.9" y1="483.2" x2="301.1" y2="483.2" stroke="#000" stroke-width="2"/>
<line x1="297.9" y1="478.07" x2="301.1" y2="478.07" stroke="#000" stroke-width="2"/>
<line x1="297.9" y1="472.93" x2="301.1" y2="472.93" stroke="#000" stroke-width="2"/>
<line x1="297.9" y1="467.8" x2="303.5" y2="467.8" stroke="#000" stroke-width="2"/>
<line x1="297.9" y1="462.67" x2="301.1" y2="462.67" stroke="#000" stroke-width="2"/>
<line x1="297.9" y1="457.53" x2="301.1" y2="457.53" stroke="#000" stroke-width="2"/>
<line x1="297.9" y1="452.4" x2="301.1" y2="452.4" stroke="#000" stroke-width="2"/>
<line x1="297.9" y1="447.27" x2="301.1" y2="447.27" stroke="#000" stroke-width="2"/>
<line x1="297.9" y1="442.13" x2="303.5" y2="442.13" stroke="#000" stroke-width="2"/>
<line x1="297.9" y1="437" x2="301.1" y2="437" stroke="#000" stroke-width="2"/>
<line x1="297.9" y1="431.87" x2="301.1" y2="431.87" stroke="#000" stroke-width="2"/>
<line x1="297.9" y1="426.73" x2="301.1" y2="426.73" stroke="#000" stroke-width="2"/>
<line x1="297.9" y1="421.6" x2="301.1" y2="421.6" stroke="#000" stroke-width="2"/>
<line x1="297.9" y1="416.47" x2="303.5" y2="416.47" stroke="#000" stroke-width="2"/>
<line x1="297.9" y1="411.33" x2="301.1" y2="411.33" stroke="#000" stroke-width="2"/>
<line x1="297.9" y1="406.2" x2="301.1" y2="406.2" stroke="#000" stroke-width="2"/>
<line x1="297.9" y1="401.07" x2="301.1" y2="401.07" stroke="#000" stroke-width="2"/>
<line x1="297.9" y1="395.93" x2="301.1" y2="395.93" stroke="#000" stroke-width="2"/>
<line x1="297.9" y1="390.8" x2="303.5" y2="390.8" stroke="#000" stroke-width="2"/>
<line x1="310.28" y1="544.8" x2="310.28" y2="541.6" stroke="#000" stroke-width="2"/>
<line x1="317.53" y1="544.8" x2="317.53" y2="541.6" stroke="#000" stroke-width="2"/>
<line x1="322.67" y1="544.8" x2="322.67" y2="541.6" stroke="#000" stroke-width="2"/>
<line x1="326.66" y1="544.8" x2="326.66" y2="541.6" stroke="#000" stroke-width="2"/>
<line x1="329.91" y1="544.8" x2="329.91" y2="541.6" stroke="#000" stroke-width="2"/>
<line x1="332.67" y1="544.8" x2="332.67" y2="541.6" stroke="#000" stroke-width="2"/>
<line x1="335.05" y1="544.8" x2="335.05" y2="541.6" stroke="#000" stroke-width="2"/>
<line x1="337.16" y1="544.8" x2="337.16" y2="541.6" stroke="#000" stroke-width="2"/>
<line x1="339.04" y1="544.8" x2="339.04" y2="538.8" stroke="#000" stroke-width="2"/>
<line x1="351.42" y1="544.8" x2="351.42" y2="541.6" stroke="#000" stroke-width="2"/>
<line x1="358.67" y1="544.8" x2="358.67" y2="541.6" stroke="#000" stroke-width="2"/>
<line x1="363.81" y1="544.8" x2="363.81" y2="541.6" stroke="#000" stroke-width="2"/>
<line x1="367.8" y1="544.8" x2="367.8" y2="541.6" stroke="#000" stroke-width="2"/>
<line x1="371.05" y1="544.8" x2="371.05" y2="541.6" stroke="#000" stroke-width="2"/>
<line x1="373.81" y1="544.8" x2="373.81" y2="541.6" stroke="#000" stroke-width="2"/>
<line x1="376.19" y1="544.8" x2="376.19" y2="541.6" stroke="#000" stroke-width="2"/>
<line x1="378.3" y1="544.8" x2="378.3" y2="541.6" stroke="#000" stroke-width="2"/>
<line x1="380.18" y1="544.8" x2="380.18" y2="538.8" stroke="#000" stroke-width="2"/>
<line x1="392.56" y1="544.8" x2="392.56" y2="541.6" stroke="#000" stroke-width="2"/>
<line x1="399.81" y1="544.8" x2="399.81" y2="541.6" stroke="#000" stroke-width="2"/>
<line x1="404.95" y1="544.8" x2="404.95" y2="541.6" stroke="#000" stroke-width="2"/>
<line x1="408.94" y1="544.8" x2="408.94" y2="541.6" stroke="#000" stroke-width="2"/>
<line x1="412.19" y1="544.8" x2="412.19" y2="541.6" stroke="#000" stroke-width="2"/>
<line x1="414.95" y1="544.8" x2="414.95" y2="541.6" stroke="#000" stroke-width="2"/>
<line x1="417.33" y1="544.8" x2="417.33" y2="541.6" stroke="#000" stroke-width="2"/>
<line x1="419.44" y1="544.8" x2="419.44" y2="541.6" stroke="#000" stroke-width="2"/>
<line x1="421.32" y1="544.8" x2="421.32" y2="538.8" stroke="#000" stroke-width="2"/>
<line x1="433.7" y1="544.8" x2="433.7" y2="541.6" stroke="#000" stroke-width="2"/>
<line x1="440.95" y1="544.8" x2="440.95" y2="541.6" stroke="#000" stroke-width="2"/>
<line x1="446.09" y1="544.8" x2="446.09" y2="541.6" stroke="#000" stroke-width="2"/>
<line x1="450.08" y1="544.8" x2="450.08" y2="541.6" stroke="#000" stroke-width="2"/>
<line x1="453.33" y1="544.8" x2="453.33" y2="541.6" stroke="#000" stroke-width="2"/>
<line x1="456.09" y1="544.8" x2="456.09" y2="541.6" stroke="#000" stroke-width="2"/>
<line x1="458.47" y1="544.8" x2="458.47" y2="541.6" stroke="#000" stroke-width="2"/>
<line x1="460.58" y1="544.8" x2="460.58" y2="541.6" stroke="#000" stroke-width="2"/>
<line x1="462.46" y1="544.8" x2="462.46" y2="538.8" stroke="#000" stroke-width="2"/>
<line x1="474.84" y1="544.8" x2="474.84" y2="541.6" stroke="#000" stroke-width="2"/>
<line x1="482.09" y1="544.8" x2="482.09" y2="541.6" stroke="#000" stroke-width="2"/>
<line x1="487.23" y1="544.8" x2="487.23" y2="541.6" stroke="#000" stroke-width="2"/>
<line x1="491.22" y1="544.8" x2="491.22" y2="541.6" stroke="#000" stroke-width="2"/>
<line x1="494.47" y1="544.8" x2="494.47" y2="541.6" stroke="#000" stroke-width="2"/>
<line x1="497.23" y1="544.8" x2="497.23" y2="541.6" stroke="#000" stroke-width="2"/>
<line x1="499.61" y1="544.8" x2="499.61" y2="541.6" stroke="#000" stroke-width="2"/>
<line x1="501.72" y1="544.8" x2="501.72" y2="541.6" stroke="#000" stroke-width="2"/>
<line x1="503.6" y1="544.8" x2="503.6" y2="538.8" stroke="#000" stroke-width="2"/>
<line x1="413.35" y1="474.03" x2="413.35" y2="490.63" stroke="#000" stroke-width="1.15"/>
<line x1="411.35" y1="474.03" x2="415.35" y2="474.03" stroke="#000" stroke-width="1.15"/>
<line x1="411.35" y1="490.63" x2="415.35" y2="490.63" stroke="#000" stroke-width="1.15"/>
<line x1="425.73" y1="446.7" x2="425.73" y2="458.5" stroke="#000" stroke-width="1.15"/>
<line x1="423.73" y1="446.7" x2="427.73" y2="446.7" stroke="#000" stroke-width="1.15"/>
<line x1="423.73" y1="458.5" x2="427.73" y2="458.5" stroke="#000" stroke-width="1.15"/>
<line x1="438.11" y1="411.47" x2="438.11" y2="432.27" stroke="#000" stroke-width="1.15"/>
<line x1="436.11" y1="411.47" x2="440.11" y2="411.47" stroke="#000" stroke-width="1.15"/>
<line x1="436.11" y1="432.27" x2="440.11" y2="432.27" stroke="#000" stroke-width="1.15"/>
<line x1="450.5" y1="394.34" x2="450.5" y2="407.84" stroke="#000" stroke-width="1.15"/>
<line x1="448.5" y1="394.34" x2="452.5" y2="394.34" stroke="#000" stroke-width="1.15"/>
<line x1="448.5" y1="407.84" x2="452.5" y2="407.84" stroke="#000" stroke-width="1.15"/>
<line x1="462.88" y1="391.71" x2="462.88" y2="405.81" stroke="#000" stroke-width="1.15"/>
<line x1="460.88" y1="391.71" x2="464.88" y2="391.71" stroke="#000" stroke-width="1.15"/>
<line x1="460.88" y1="405.81" x2="464.88" y2="405.81" stroke="#000" stroke-width="1.15"/>
<line x1="475.27" y1="394.48" x2="475.27" y2="403.78" stroke="#000" stroke-width="1.15"/>
<line x1="473.27" y1="394.48" x2="477.27" y2="394.48" stroke="#000" stroke-width="1.15"/>
<line x1="473.27" y1="403.78" x2="477.27" y2="403.78" stroke="#000" stroke-width="1.15"/>
<path d="M339.04,530.63 L351.42,531.79 L363.81,535.56 L376.19,535.63 L388.58,529 L400.96,504.27 L413.35,482.93 L425.73,452.3 L438.11,422.27 L450.5,401.14 L462.88,398.91 L475.27,400.08" stroke="#000" stroke-width="1.5" fill="none" stroke-linejoin="round"/>
<rect x="335.74" y="527.33" width="6.6" height="6.6" fill="#000"/>
<rect x="348.12" y="528.49" width="6.6" height="6.6" fill="#000"/>
<rect x="360.51" y="532.26" width="6.6" height="6.6" fill="#000"/>
<rect x="372.89" y="532.33" width="6.6" height="6.6" fill="#000"/>
<rect x="385.28" y="525.7" width="6.6" height="6.6" fill="#000"/>
<rect x="397.66" y="500.97" width="6.6" height="6.6" fill="#000"/>
<rect x="410.05" y="479.63" width="6.6" height="6.6" fill="#000"/>
<rect x="422.43" y="449" width="6.6" height="6.6" fill="#000"/>
<rect x="434.81" y="418.97" width="6.6" height="6.6" fill="#000"/>
<rect x="447.2" y="397.84" width="6.6" height="6.6" fill="#000"/>
<rect x="459.58" y="395.61" width="6.6" height="6.6" fill="#000"/>
<rect x="471.97" y="396.78" width="6.6" height="6.6" fill="#000"/>
</g>
<text x="0" y="0" font-size="9.6" font-weight="bold" transform="translate(19.800,8.850)">60</text>
<text x="0" y="0" font-size="9.6" font-weight="bold" transform="translate(19.800,32.750)">50</text>
<text x="0" y="0" font-size="9.6" font-weight="bold" transform="translate(20.100,58.750)">40</text>
<text x="0" y="0" font-size="9.6" font-weight="bold" transform="translate(20.100,85.150)">30</text>
<text x="0" y="0" font-size="9.6" font-weight="bold" transform="translate(20.100,109.750)">20</text>
<text x="0" y="0" font-size="9.6" font-weight="bold" transform="translate(20.800,137.050)">10</text>
<text x="0" y="0" font-size="9.6" font-weight="bold" transform="translate(26.600,162.450)">0</text>
<text x="0" y="0" font-size="9.6" font-weight="bold" transform="translate(67.225,174.250)">0</text>
<text x="0" y="0" font-size="9.6" font-weight="bold" transform="translate(97.025,173.875)">2</text>
<text x="0" y="0" font-size="9.6" font-weight="bold" transform="translate(126.450,173.875)">4</text>
<text x="0" y="0" font-size="9.6" font-weight="bold" transform="translate(155.675,173.750)">6</text>
<text x="0" y="0" font-size="9.6" font-weight="bold" transform="translate(185.650,173.750)">8</text>
<text x="0" y="0" font-size="9.6" font-weight="bold" transform="translate(214.200,173.550)">10</text>
<text x="0" y="0" font-size="9.6" font-weight="bold" transform="translate(240.700,173.675)">12</text>
<text x="0" y="0" font-size="12.3" font-weight="bold" transform="translate(88.900,184.200)">[Econazole]</text>
<text x="0" y="0" font-size="12.3" font-weight="bold" transform="translate(161.750,184.200)"><tspan font-weight="normal" font-family="Liberation Serif">&#956;</tspan>M</text>
<text x="0" y="0" font-size="12.3" font-weight="bold" transform="translate(12.100,97.200) rotate(-90)">% Death</text>
<text x="0" y="0" font-size="14" font-weight="bold" transform="translate(54.100,20.425)">A</text>
<text x="0" y="0" font-size="9.6" font-weight="bold" transform="translate(266.850,7.750)">1,000</text>
<text x="0" y="0" font-size="9.6" font-weight="bold" transform="translate(275.750,46.550)">100</text>
<text x="0" y="0" font-size="9.6" font-weight="bold" transform="translate(281.400,84.600)">10</text>
<text x="0" y="0" font-size="9.6" font-weight="bold" transform="translate(284.550,122.675)">1</text>
<text x="0" y="0" font-size="9.6" font-weight="bold" transform="translate(277.550,161.150)">0.1</text>
<text x="0" y="0" font-size="9.6" font-weight="bold" transform="translate(327.775,173.450)">0</text>
<text x="0" y="0" font-size="9.6" font-weight="bold" transform="translate(362.875,173.575)">2</text>
<text x="0" y="0" font-size="9.6" font-weight="bold" transform="translate(395.950,173.575)">4</text>
<text x="0" y="0" font-size="9.6" font-weight="bold" transform="translate(432.075,173.450)">6</text>
<text x="0" y="0" font-size="9.6" font-weight="bold" transform="translate(465.650,173.450)">8</text>
<text x="0" y="0" font-size="9.6" font-weight="bold" transform="translate(496.700,173.450)">10</text>
<text x="0" y="0" font-size="12.3" font-weight="bold" transform="translate(349.500,183.400)">[Econazole]</text>
<text x="0" y="0" font-size="12.3" font-weight="bold" transform="translate(421.850,183.400)"><tspan font-weight="normal" font-family="Liberation Serif">&#956;</tspan>M</text>
<text x="0" y="0" font-size="12.3" font-weight="bold" transform="translate(271.400,139.475) rotate(-90)">% colony formation</text>
<text x="0" y="0" font-size="14" font-weight="bold" transform="translate(308.925,18.825)">B</text>
<text x="0" y="0" font-size="9.6" font-weight="bold" transform="translate(21.000,192.900)">60</text>
<text x="0" y="0" font-size="9.6" font-weight="bold" transform="translate(21.000,216.550)">50</text>
<text x="0" y="0" font-size="9.6" font-weight="bold" transform="translate(21.300,242.900)">40</text>
<text x="0" y="0" font-size="9.6" font-weight="bold" transform="translate(21.300,268.550)">30</text>
<text x="0" y="0" font-size="9.6" font-weight="bold" transform="translate(21.300,293.900)">20</text>
<text x="0" y="0" font-size="9.6" font-weight="bold" transform="translate(21.300,321.050)">10</text>
<text x="0" y="0" font-size="9.6" font-weight="bold" transform="translate(27.100,346.100)">0</text>
<text x="0" y="0" font-size="9.6" font-weight="bold" transform="translate(68.575,358.750)">0</text>
<text x="0" y="0" font-size="9.6" font-weight="bold" transform="translate(95.425,358.750)">20</text>
<text x="0" y="0" font-size="9.6" font-weight="bold" transform="translate(125.950,358.550)">40</text>
<text x="0" y="0" font-size="9.6" font-weight="bold" transform="translate(154.325,358.250)">60</text>
<text x="0" y="0" font-size="9.6" font-weight="bold" transform="translate(184.225,358.250)">80</text>
<text x="0" y="0" font-size="9.6" font-weight="bold" transform="translate(212.675,358.250)">100</text>
<text x="0" y="0" font-size="9.6" font-weight="bold" transform="translate(241.575,358.250)">120</text>
<text x="0" y="0" font-size="12.3" font-weight="bold" transform="translate(105.650,368.800)">[Ketotifen]</text>
<text x="0" y="0" font-size="12.3" font-weight="bold" transform="translate(170.250,368.800)"><tspan font-weight="normal" font-family="Liberation Serif">&#956;</tspan>M</text>
<text x="0" y="0" font-size="12.3" font-weight="bold" transform="translate(12.600,280.800) rotate(-90)">% Death</text>
<text x="0" y="0" font-size="14" font-weight="bold" transform="translate(55.175,205.950)">C</text>
<text x="0" y="0" font-size="9.6" font-weight="bold" transform="translate(272.750,191.450)">300</text>
<text x="0" y="0" font-size="9.6" font-weight="bold" transform="translate(273.050,241.150)">100</text>
<text x="0" y="0" font-size="9.6" font-weight="bold" transform="translate(279.400,344.850)">10</text>
<text x="0" y="0" font-size="9.6" font-weight="bold" transform="translate(328.475,356.750)">0</text>
<text x="0" y="0" font-size="9.6" font-weight="bold" transform="translate(361.325,356.750)">20</text>
<text x="0" y="0" font-size="9.6" font-weight="bold" transform="translate(395.750,356.650)">40</text>
<text x="0" y="0" font-size="9.6" font-weight="bold" transform="translate(430.125,356.350)">60</text>
<text x="0" y="0" font-size="9.6" font-weight="bold" transform="translate(464.625,356.350)">80</text>
<text x="0" y="0" font-size="9.6" font-weight="bold" transform="translate(494.375,356.350)">100</text>
<text x="0" y="0" font-size="12.3" font-weight="bold" transform="translate(359.500,367.900)">[Ketotifen]</text>
<text x="0" y="0" font-size="12.3" font-weight="bold" transform="translate(424.550,367.900)"><tspan font-weight="normal" font-family="Liberation Serif">&#956;</tspan>M</text>
<text x="0" y="0" font-size="12.3" font-weight="bold" transform="translate(266.400,323.525) rotate(-90)">% colony formation</text>
<text x="0" y="0" font-size="14" font-weight="bold" transform="translate(309.950,204.975)">D</text>
<text x="0" y="0" font-size="9.6" font-weight="bold" transform="translate(24.400,393.350)">70</text>
<text x="0" y="0" font-size="9.6" font-weight="bold" transform="translate(24.400,415.300)">60</text>
<text x="0" y="0" font-size="9.6" font-weight="bold" transform="translate(24.400,437.900)">50</text>
<text x="0" y="0" font-size="9.6" font-weight="bold" transform="translate(24.400,459.750)">40</text>
<text x="0" y="0" font-size="9.6" font-weight="bold" transform="translate(24.400,481.900)">30</text>
<text x="0" y="0" font-size="9.6" font-weight="bold" transform="translate(24.400,504.050)">20</text>
<text x="0" y="0" font-size="9.6" font-weight="bold" transform="translate(24.400,525.800)">10</text>
<text x="0" y="0" font-size="9.6" font-weight="bold" transform="translate(30.600,547.800)">0</text>
<text x="0" y="0" font-size="9.6" font-weight="bold" transform="translate(95.175,563.450)">100</text>
<text x="0" y="0" font-size="9.6" font-weight="bold" transform="translate(240.400,563.150)">1000</text>
<text x="0" y="0" font-size="12.3" font-weight="bold" transform="translate(122.875,574.200)">[SLF] ng/ml</text>
<text x="0" y="0" font-size="12.3" font-weight="bold" transform="translate(16.500,483.350) rotate(-90)">% Death</text>
<text x="0" y="0" font-size="14" font-weight="bold" transform="translate(56.075,409.275)">E</text>
<text x="0" y="0" font-size="9.6" font-weight="bold" transform="translate(263.200,394.800)">12,000</text>
<text x="0" y="0" font-size="9.6" font-weight="bold" transform="translate(262.850,420.500)">10,000</text>
<text x="0" y="0" font-size="9.6" font-weight="bold" transform="translate(268.900,446.200)">8000</text>
<text x="0" y="0" font-size="9.6" font-weight="bold" transform="translate(268.900,471.750)">6000</text>
<text x="0" y="0" font-size="9.6" font-weight="bold" transform="translate(268.900,497.600)">4000</text>
<text x="0" y="0" font-size="9.6" font-weight="bold" transform="translate(268.900,523.750)">2000</text>
<text x="0" y="0" font-size="9.6" font-weight="bold" transform="translate(283.400,548.000)">0</text>
<text x="0" y="0" font-size="9.6" font-weight="bold" transform="translate(293.975,563.800)">0</text>
<text x="0" y="0" font-size="9.6" font-weight="bold" transform="translate(335.675,563.925)">1</text>
<text x="0" y="0" font-size="9.6" font-weight="bold" transform="translate(374.900,563.550)">10</text>
<text x="0" y="0" font-size="9.6" font-weight="bold" transform="translate(414.575,563.000)">100</text>
<text x="0" y="0" font-size="9.6" font-weight="bold" transform="translate(454.200,563.000)">1000</text>
<text x="0" y="0" font-size="9.6" font-weight="bold" transform="translate(491.600,563.000)">10000</text>
<text x="0" y="0" font-size="12.3" font-weight="bold" transform="translate(364.275,573.800)">[SLF] ng/ml</text>
<text x="0" y="0" font-size="12.3" font-weight="bold" transform="translate(264.200,479.625) rotate(-90)">cpm</text>
<text x="0" y="0" font-size="14" font-weight="bold" transform="translate(310.550,408.775)">F</text>
</g>
</svg>
</body></html>
